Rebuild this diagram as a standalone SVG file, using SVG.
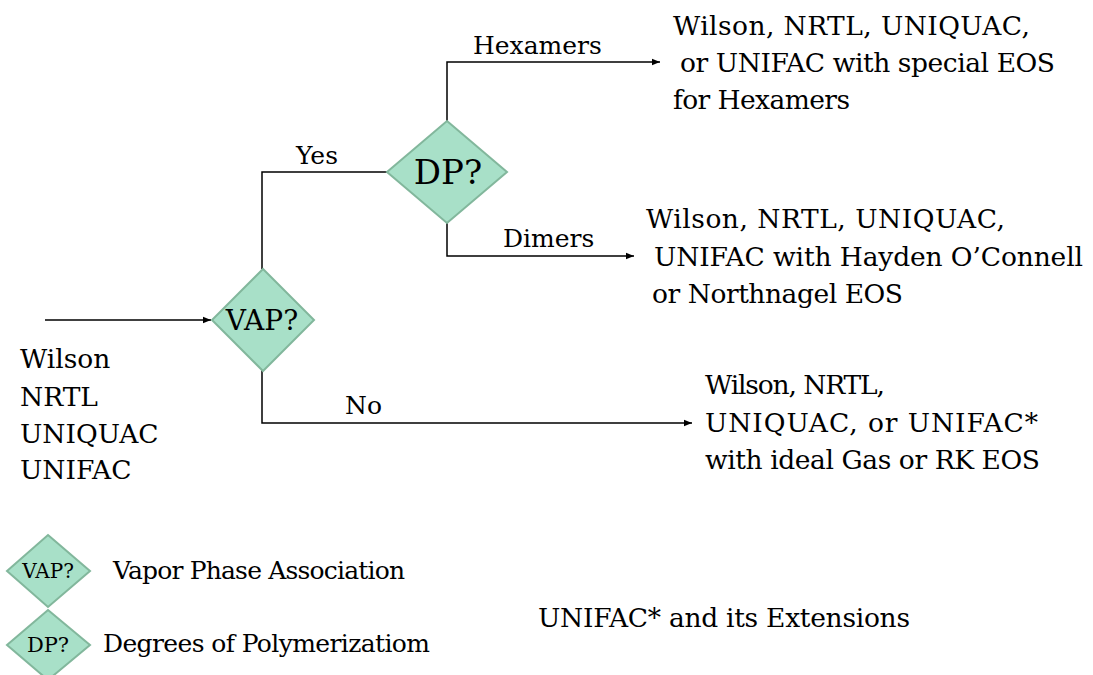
<svg xmlns="http://www.w3.org/2000/svg" width="1093" height="675" viewBox="0 0 1093 675">
<style>
text{font-family:"DejaVu Serif","Liberation Serif",serif;fill:#000}
.t{font-size:26.5px}
.l{font-size:25px}
.d{fill:#a8e0c8;stroke:#82b79c;stroke-width:2}
.c{fill:none;stroke:#000;stroke-width:1.5}
</style>
<defs>
<marker id="ah" viewBox="0 0 10 10" refX="10" refY="5" markerWidth="8" markerHeight="8" markerUnits="userSpaceOnUse" orient="auto">
<path d="M0,1 L10,5 L0,9 z" fill="#000"/>
</marker>
</defs>
<rect width="1093" height="675" fill="#fff"/>
<g id="connectors">
<path class="c" d="M45,320 H211" marker-end="url(#ah)"/>
<path class="c" d="M262,269 V172 H387"/>
<path class="c" d="M447,121 V62 H660" marker-end="url(#ah)"/>
<path class="c" d="M447,222 V256 H634" marker-end="url(#ah)"/>
<path class="c" d="M262,370 V423 H692" marker-end="url(#ah)"/>
<text class="l" x="296" y="164">Yes</text>
<text class="l" x="473" y="54">Hexamers</text>
<text class="l" x="503" y="247">Dimers</text>
<text class="l" x="345" y="414">No</text>
</g>
<g id="vap">
<polygon class="d" points="263,269 314,320 263,371 212,320"/>
<text x="262" y="330" font-size="28" text-anchor="middle">VAP?</text>
</g>
<g id="dp">
<polygon class="d" points="447,121 507,172 447,223 387,172"/>
<text x="448" y="184" font-size="34" text-anchor="middle">DP?</text>
</g>
<g id="input">
<text class="t" x="20" y="368">Wilson</text>
<text class="t" x="20" y="406">NRTL</text>
<text class="t" x="20" y="443">UNIQUAC</text>
<text class="t" x="20" y="479">UNIFAC</text>
</g>
<g id="hexamers-out">
<text class="t" x="673" y="35" textLength="357" lengthAdjust="spacing">Wilson, NRTL, UNIQUAC,</text>
<text class="t" x="680" y="72" textLength="375" lengthAdjust="spacing">or UNIFAC with special EOS</text>
<text class="t" x="673" y="109" textLength="177" lengthAdjust="spacing">for Hexamers</text>
</g>
<g id="dimers-out">
<text class="t" x="646" y="228" textLength="359" lengthAdjust="spacing">Wilson, NRTL, UNIQUAC,</text>
<text class="t" x="654" y="266" textLength="429" lengthAdjust="spacing">UNIFAC with Hayden O’Connell</text>
<text class="t" x="652" y="303" textLength="251" lengthAdjust="spacing">or Northnagel EOS</text>
</g>
<g id="no-out">
<text class="t" x="705" y="394" textLength="180" lengthAdjust="spacing">Wilson, NRTL,</text>
<text class="t" x="705" y="432" textLength="333" lengthAdjust="spacing">UNIQUAC, or UNIFAC*</text>
<text class="t" x="705" y="469" textLength="335" lengthAdjust="spacing">with ideal Gas or RK EOS</text>
</g>
<g id="legend-vap">
<polygon class="d" points="48,535 90,571 48,607 7,571"/>
<text x="48" y="578" font-size="20" text-anchor="middle">VAP?</text>
<text class="l" x="113" y="579" textLength="292" lengthAdjust="spacing">Vapor Phase Association</text>
</g>
<g id="legend-dp">
<polygon class="d" points="48,610 90,645 48,680 7,645"/>
<text x="48" y="652" font-size="21" text-anchor="middle">DP?</text>
<text class="l" x="103" y="652" textLength="327" lengthAdjust="spacing">Degrees of Polymerizatiom</text>
</g>
<g id="note">
<text class="t" x="538" y="627" textLength="372" lengthAdjust="spacing">UNIFAC* and its Extensions</text>
</g>
</svg>
